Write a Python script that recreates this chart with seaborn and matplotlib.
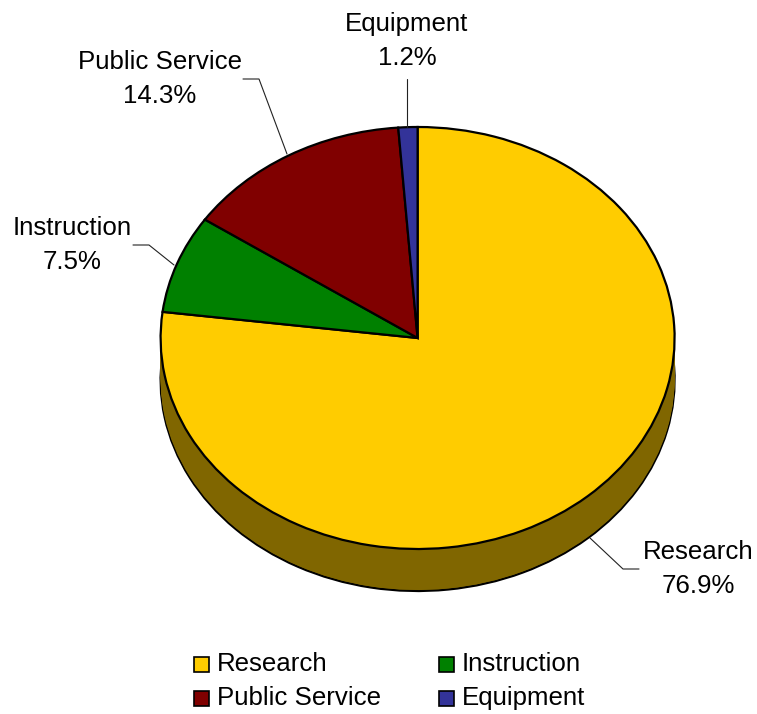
import matplotlib
matplotlib.use("Agg")
import matplotlib.pyplot as plt
from matplotlib.patches import Rectangle
import numpy as np
import seaborn as sns

categories = ["Research", "Instruction", "Public Service", "Equipment"]
shares = [76.9, 7.5, 14.3, 1.2]
face_colors = ["#FFCC00", "#008000", "#800000", "#333399"]
side_colors = ["#806600", "#004000", "#400000", "#1A1A4D"]

W, H = 757, 714
CX, CY, RX, RY, DEPTH = 417.6, 338.0, 257.0, 211.0, 42.0

sns.set_theme(style="white", font="Liberation Sans")
plt.rcParams["font.family"] = ["Liberation Sans", "DejaVu Sans"]

fig = plt.figure(figsize=(W / 100, H / 100), dpi=100, facecolor="white")
ax = fig.add_axes([0, 0, 1, 1])

edge = {"edgecolor": "black", "linewidth": 1.6}
flat = {"edgecolor": "none", "linewidth": 0}
# Extruded rim: stacked copies of the pie, the lowest one outlined
for i, off in enumerate(np.arange(DEPTH, 0, -1.0)):
    ax.pie(shares, colors=side_colors, startangle=90, counterclock=False,
           center=(0, -off / RY), radius=1.0,
           wedgeprops=edge if i == 0 else flat)
ax.pie(shares, colors=face_colors, startangle=90, counterclock=False,
       center=(0, 0), radius=1.0, wedgeprops=edge)

# One data unit is RX pixels across and RY pixels down, giving the tilted ellipse
ax.set_aspect("auto")
ax.set_xlim(-CX / RX, (W - CX) / RX)
ax.set_ylim((CY - H) / RY, CY / RY)
ax.set_axis_off()
ax.set_position([0, 0, 1, 1])

# Pixel-positioned overlay for labels, leaders and the legend
ov = fig.add_axes([0, 0, 1, 1], facecolor="none")
ov.set_xlim(0, W)
ov.set_ylim(H, 0)
ov.set_axis_off()

FS = 18.6
for name, pct, x, y in [("Equipment", "1.2%", 407, 41),
                        ("Public Service", "14.3%", 160, 79),
                        ("Instruction", "7.5%", 72, 245),
                        ("Research", "76.9%", 698.5, 569)]:
    ov.text(x, y, f"{name}\n{pct}", ha="center", va="center", fontsize=FS,
            color="black", linespacing=1.55)

leaders = [([407, 407], [79, 127]),
           ([243, 259, 287], [79, 79, 154]),
           ([133, 149, 174], [245, 245, 265]),
           ([590, 623, 639], [538, 569, 569])]
for xs, ys in leaders:
    ov.plot(xs, ys, color="#222222", lw=0.8)

for name, color, bx, by in [("Research", face_colors[0], 194, 657),
                            ("Instruction", face_colors[1], 439, 657),
                            ("Public Service", face_colors[2], 194, 691),
                            ("Equipment", face_colors[3], 439, 691)]:
    ov.add_patch(Rectangle((bx, by), 15, 15, facecolor=color,
                           edgecolor="black", linewidth=1.2))
    ov.text(bx + 23, by + 7, name, ha="left", va="center", fontsize=FS,
            color="black")

fig.savefig("out.png", dpi=100, facecolor="white")
